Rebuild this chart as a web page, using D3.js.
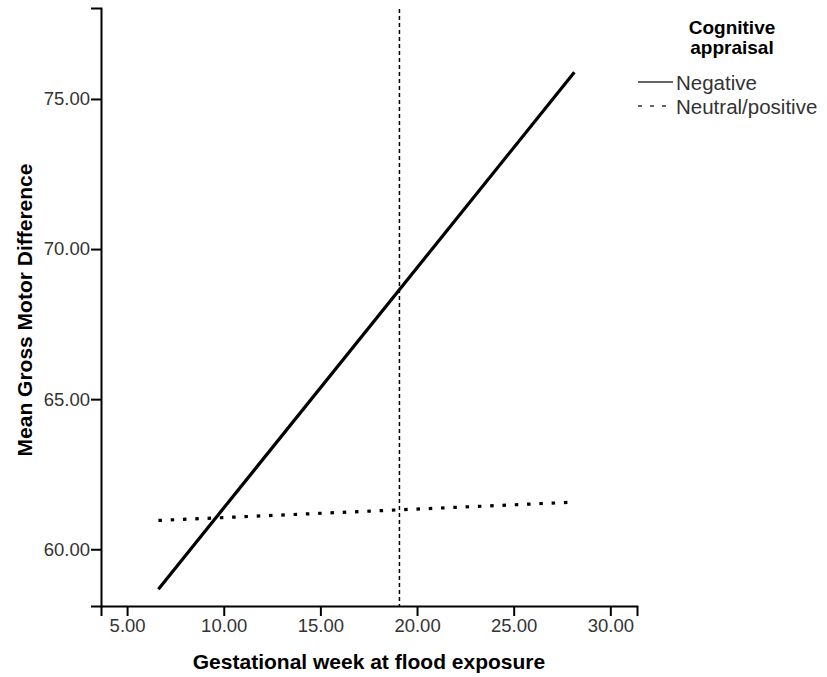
<!DOCTYPE html>
<html>
<head>
<meta charset="utf-8">
<script src="https://cdn.jsdelivr.net/npm/d3@7"></script>
<style>
  body { margin: 0; background: #fff; }
  text { font-family: "Liberation Sans", Arial, sans-serif; }
</style>
</head>
<body>
<div id="chart"></div>
<script>
// ==================== données ====================//
const xTicks = [5, 10, 15, 20, 25, 30];
const yTicks = [60, 65, 70, 75];
const groups = ["Negative", "Neutral/positive"];
// droites ajustées : [x début, x fin], [y début, y fin]
const fitX = [6.62, 28.14];
const negativeY = [58.67, 75.89];
const neutralY = [60.96, 61.57];
const refLineX = 19.09;

const width = 827;
const height = 677;

const svg = d3.select("#chart")
    .append("svg")
    .attr("width", width)
    .attr("height", height);

const x = d3.scaleLinear().domain([3.65, 31.38]).range([101, 637]);
const y = d3.scaleLinear().domain([58.11, 78.03]).range([606, 8]);

// ==================== axes ====================//
const xAxis = svg.append("g")
    .attr("transform", `translate(0,${y.range()[0]})`)
    .call(d3.axisBottom(x).tickValues(xTicks).tickFormat(d3.format(".2f")).tickSizeOuter(0).tickSize(10).tickPadding(3));

const yAxis = svg.append("g")
    .attr("transform", `translate(${x.range()[0]},0)`)
    .call(d3.axisLeft(y).tickValues(yTicks).tickFormat(d3.format(".2f")).tickSizeOuter(0).tickSize(10).tickPadding(1));

[xAxis, yAxis].forEach(g => {
    g.select(".domain").attr("stroke", "#000").attr("stroke-width", 2);
    g.selectAll(".tick line").attr("stroke", "#000").attr("stroke-width", 2);
    g.selectAll(".tick text")
        .attr("fill", "#333")
        .style("font-size", "18.5px")
        .style("font-family", "Liberation Sans, Arial, sans-serif");
});

// titres des axes
svg.append("text")
    .attr("x", 369)
    .attr("y", 669)
    .attr("text-anchor", "middle")
    .style("font-size", "21px")
    .style("font-weight", "bold")
    .text("Gestational week at flood exposure");

svg.append("text")
    .attr("transform", "translate(32,310) rotate(-90)")
    .attr("text-anchor", "middle")
    .style("font-size", "21px")
    .style("font-weight", "bold")
    .text("Mean Gross Motor Difference");

// ==================== ligne de référence ====================//
svg.append("line")
    .attr("x1", x(refLineX)).attr("x2", x(refLineX))
    .attr("y1", y(78.0)).attr("y2", y.range()[0])
    .attr("stroke", "#000")
    .attr("stroke-width", 1.5)
    .attr("stroke-dasharray", "4,3");

// ==================== droites ====================//
const line = d3.line().x(d => x(d[0])).y(d => y(d[1]));

svg.append("path")
    .datum(fitX.map((v, i) => [v, negativeY[i]]))
    .attr("d", line)
    .attr("fill", "none")
    .attr("stroke", "#000")
    .attr("stroke-width", 3.2);

svg.append("path")
    .datum(fitX.map((v, i) => [v, neutralY[i]]))
    .attr("d", line)
    .attr("fill", "none")
    .attr("stroke", "#000")
    .attr("stroke-width", 3.2)
    .attr("stroke-dasharray", "3.5,8.8");

// ==================== légende ====================//
const legend = svg.append("g");

legend.append("text")
    .attr("x", 732).attr("y", 34)
    .attr("text-anchor", "middle")
    .style("font-size", "19px").style("font-weight", "bold")
    .text("Cognitive");
legend.append("text")
    .attr("x", 732).attr("y", 54)
    .attr("text-anchor", "middle")
    .style("font-size", "19px").style("font-weight", "bold")
    .text("appraisal");

groups.forEach((g, i) => {
    const ly = 82 + i * 24;
    legend.append("line")
        .attr("x1", 638).attr("x2", i === 0 ? 673 : 668)
        .attr("y1", ly).attr("y2", ly)
        .attr("stroke", "#333")
        .attr("stroke-width", 1.5)
        .attr("stroke-dasharray", i === 0 ? null : "4,8");
    legend.append("text")
        .attr("x", 676).attr("y", ly + 8)
        .attr("fill", "#333")
        .style("font-size", "20.5px")
        .text(g);
});
</script>
</body>
</html>
